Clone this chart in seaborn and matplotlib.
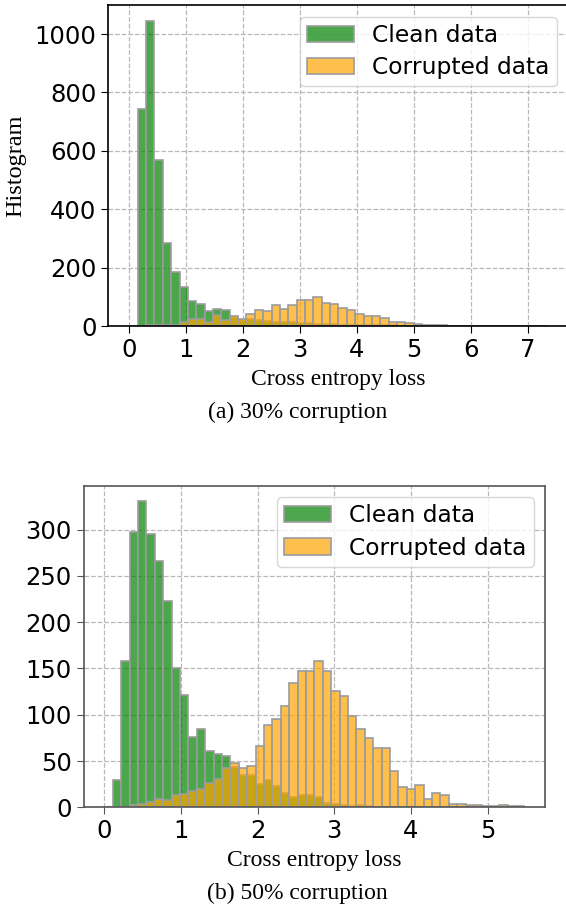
import numpy as np
import pandas as pd
import matplotlib
matplotlib.use("Agg")
import matplotlib.pyplot as plt
import seaborn as sns

# ---------------- data (counts per bin, 50 equal bins from 0 to max) ----------------
max_loss_30 = 7.35
clean_30 = [0, 744, 1046, 570, 285, 186, 134, 85, 74, 51,
            57, 55, 30, 22, 23, 20, 18, 15, 14, 12,
            10, 9, 8, 7, 6, 5, 4, 3, 3, 2,
            2, 2, 1, 1, 1, 1, 0, 1, 0, 0,
            0, 0, 0, 0, 0, 0, 0, 0, 0, 0]
corrupt_30 = [0, 0, 2, 3, 5, 4, 15, 23, 25, 15,
              38, 21, 33, 24, 42, 54, 51, 72, 57, 73,
              90, 88, 98, 79, 75, 63, 54, 40, 35, 33,
              26, 15, 15, 10, 7, 5, 5, 2, 1, 1,
              1, 1, 1, 0, 1, 1, 0, 0, 1, 1]

max_loss_50 = 5.48
clean_50 = [0, 29, 158, 298, 331, 295, 266, 223, 151, 121,
            76, 85, 61, 58, 55, 44, 35, 35, 25, 29,
            23, 15, 11, 13, 13, 11, 5, 4, 3, 1,
            3, 1, 0, 0, 0, 0, 0, 0, 0, 0,
            0, 0, 0, 0, 0, 0, 0, 0, 0, 0]
corrupt_50 = [0, 0, 0, 2, 4, 6, 9, 8, 13, 14,
              18, 20, 26, 31, 42, 48, 42, 45, 66, 89,
              95, 109, 134, 147, 147, 158, 147, 126, 120, 99,
              85, 75, 64, 64, 39, 22, 20, 24, 9, 15,
              13, 4, 4, 2, 2, 1, 1, 2, 1, 1]

series_labels = ["Clean data", "Corrupted data"]
captions = ["(a) 30% corruption", "(b) 50% corruption"]
x_label = "Cross entropy loss"
y_label = "Histogram"

# ---------------- figure ----------------
W, H = 566, 906
fig = plt.figure(figsize=(W / 100, H / 100), dpi=100)

def frac_axes(left_px, top_px, right_px, bottom_px):
    return fig.add_axes([left_px / W, 1 - bottom_px / H,
                         (right_px - left_px) / W, (bottom_px - top_px) / H])

ax1 = frac_axes(108.4, 5.3, 568.5, 326.0)
ax2 = frac_axes(83.5, 485.7, 545.3, 807.3)

serif = ["Liberation Serif", "DejaVu Serif"]
sans = ["DejaVu Sans"]

def draw(ax, clean, corrupt, max_loss, spine_color, ytick_vals):
    n = len(clean)
    bw = max_loss / n
    centers = (np.arange(n) + 0.5) * bw
    for name, col, counts in zip(series_labels, ["green", "orange"], [clean, corrupt]):
        sub = pd.DataFrame({"loss": centers, "count": np.asarray(counts, dtype=float)})
        sns.histplot(data=sub, x="loss", weights="count", binwidth=bw,
                     binrange=(0, max_loss), ax=ax,
                     color=col, alpha=0.7, edgecolor="#9c9c9c", linewidth=1.2,
                     label=name, stat="count")
    ax.set_axisbelow(True)
    ax.grid(True, linestyle="--", color="#b8b8b8", linewidth=0.9)
    ax.set_ylabel("")
    ax.set_xlabel(x_label, fontsize=17, family=serif, labelpad=5)
    ax.set_yticks(ytick_vals)
    ax.tick_params(labelsize=17.5, length=5, color=spine_color)
    for lab in ax.get_xticklabels() + ax.get_yticklabels():
        lab.set_family(sans)
    for s in ax.spines.values():
        s.set_color(spine_color)
        s.set_linewidth(1.2)
    ax.legend(loc="upper right", fontsize=16.8, fancybox=True, framealpha=0.8,
              edgecolor="#cccccc", borderpad=0.3, labelspacing=0.4)

draw(ax1, clean_30, corrupt_30, max_loss_30, "black", [0, 200, 400, 600, 800, 1000])
ax1.set_xticks(range(0, 8))
ax1.set_ylabel(y_label, fontsize=17.5, family=serif, labelpad=6)

draw(ax2, clean_50, corrupt_50, max_loss_50, "#555555", [0, 50, 100, 150, 200, 250, 300])
ax2.set_xticks(range(0, 6))

fig.text(297.5 / W, 1 - 412 / H, captions[0], ha="center", va="center",
         fontsize=17, family=serif)
fig.text(297.5 / W, 1 - 893 / H, captions[1], ha="center", va="center",
         fontsize=17, family=serif)

fig.savefig("out.png", dpi=100)
